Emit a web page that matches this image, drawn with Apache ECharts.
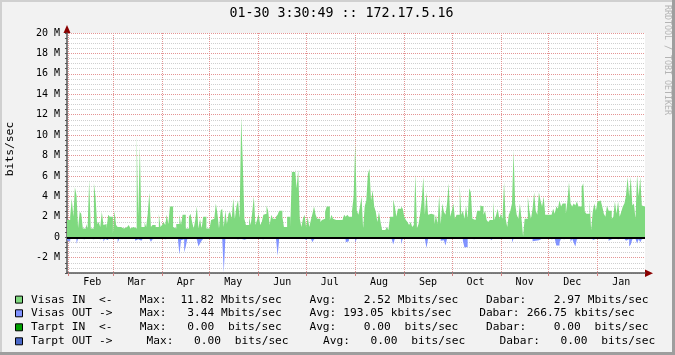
<!DOCTYPE html>
<html><head><meta charset="utf-8">
<script src="https://cdn.jsdelivr.net/npm/echarts@6/dist/echarts.min.js"></script>
<style>html,body{margin:0;padding:0;background:#f2f2f2}#c{width:675px;height:355px}</style>
</head><body><div id="c"></div>
<script>
// Daily values in Mbit/s, starting 31 Jan, last value = current ("Dabar")
const visasIn = [
1.7,1.7,2.0,3.8,2.0,4.9,4.1,0.9,2.5,2.3,
0.85,0.85,1.3,0.85,5.6,0.85,0.85,5.3,4.0,1.3,
1.5,1.0,2.5,1.2,1.3,0.85,2.2,2.0,2.0,0.35,
2.6,1.2,1.0,1.0,0.85,0.85,0.7,1.0,1.0,1.2,
0.85,1.0,0.85,0.85,10.0,2.0,8.85,1.0,1.0,1.5,
1.0,2.3,4.4,1.0,1.2,1.2,1.0,1.0,2.3,1.0,
1.2,1.5,1.2,2.2,1.3,3.0,3.0,1.0,0.85,1.3,
1.3,2.2,1.2,2.2,2.2,0.85,0.85,2.0,2.3,1.5,
0.85,1.7,3.0,0.85,1.8,0.85,2.0,2.0,0.85,0.85,
1.0,1.7,1.8,1.8,3.3,2.3,0.85,2.6,2.8,1.0,
2.6,1.3,2.3,2.5,1.8,3.8,1.8,3.0,3.6,1.8,
11.8,7.4,1.8,1.2,1.2,2.0,1.2,2.5,4.0,1.2,
1.7,2.3,1.2,1.5,2.2,2.3,3.1,2.6,1.2,2.2,
1.8,1.8,2.0,2.2,2.6,2.6,2.0,1.0,1.0,2.0,
2.0,1.0,6.4,6.4,6.7,4.8,6.6,1.8,1.0,1.8,
2.2,1.0,2.0,1.0,1.7,2.3,3.0,2.2,1.8,1.8,
1.5,1.7,1.8,2.5,3.0,3.0,1.7,2.2,1.8,1.7,
1.7,1.7,1.7,1.7,1.7,2.2,2.0,2.2,2.0,2.0,
2.6,4.0,9.2,2.6,2.2,3.0,4.0,0.85,3.0,3.6,
6.2,6.7,3.6,4.6,3.0,2.5,1.5,2.5,1.5,0.7,
0.7,0.7,1.0,0.7,2.0,2.0,3.7,3.0,2.0,2.8,
2.8,3.0,2.8,2.0,1.7,1.5,1.2,1.5,1.0,1.2,
6.2,0.85,1.3,2.3,3.6,5.9,2.2,4.4,2.2,2.3,
2.2,2.2,1.3,2.2,1.3,4.1,1.3,3.3,2.5,2.2,
3.3,5.3,2.0,2.6,3.3,1.8,2.2,2.2,5.1,2.2,
2.6,1.8,3.1,1.8,4.8,4.4,1.8,1.7,1.8,2.6,
2.6,3.1,3.0,2.2,2.6,1.7,1.5,1.7,1.7,3.5,
1.7,2.2,2.8,1.8,2.3,1.8,5.4,1.8,1.0,2.2,
2.6,3.3,8.5,3.3,2.2,1.8,3.3,1.8,0.1,1.8,
1.8,4.0,2.6,1.8,2.8,4.4,2.6,2.2,4.4,3.6,
3.0,4.0,2.2,2.2,2.3,2.2,2.3,2.8,2.3,3.0,
2.8,3.6,3.0,3.3,3.3,2.3,3.5,5.4,3.3,3.0,
3.3,3.1,3.5,3.0,3.0,4.9,5.3,2.5,2.3,2.3,
3.6,0.7,2.5,3.3,2.6,3.5,3.6,3.6,3.0,2.3,
2.0,3.1,2.6,2.6,1.8,2.0,3.5,2.3,3.5,2.0,
2.5,3.0,3.3,4.1,5.9,4.0,5.9,3.1,3.3,1.8,
6.1,4.0,5.9,3.1,3.0,2.97
];
const visasOut = [
-0.30,-0.45,-0.20,-0.15,-0.20,-0.15,-0.65,-0.15,-0.15,-0.10,
-0.20,-0.15,-0.10,-0.15,-0.15,-0.10,-0.20,-0.15,-0.10,-0.15,
-0.20,-0.10,-0.15,-0.45,-0.15,-0.30,-0.10,-0.10,-0.15,-0.10,
-0.10,-0.15,-0.55,-0.15,-0.10,-0.20,-0.10,-0.10,-0.15,-0.10,
-0.15,-0.10,-0.15,-0.35,-0.20,-0.15,-0.35,-0.20,-0.10,-0.15,
-0.10,-0.15,-0.20,-0.45,-0.20,-0.15,-0.10,-0.15,-0.10,-0.10,
-0.15,-0.20,-0.10,-0.15,-0.10,-0.10,-0.15,-0.10,-0.15,-0.10,
-0.15,-1.70,-0.30,-0.20,-1.50,-0.90,-0.15,-0.10,-0.15,-0.10,
-0.15,-0.20,-0.10,-0.90,-0.60,-0.35,-0.15,-0.10,-0.15,-0.10,
-0.10,-0.15,-0.10,-0.10,-0.15,-0.10,-0.15,-0.10,-0.15,-3.44,
-0.15,-0.10,-0.15,-0.10,-0.10,-0.15,-0.10,-0.20,-0.10,-0.15,
-0.30,-0.25,-0.10,-0.15,-0.10,-0.10,-0.20,-0.10,-0.15,-0.10,
-0.10,-0.15,-0.10,-0.20,-0.10,-0.10,-0.15,-0.10,-0.15,-0.10,
-0.10,-0.15,-0.10,-1.80,-0.15,-0.10,-0.20,-0.10,-0.15,-0.10,
-0.10,-0.15,-0.20,-0.10,-0.15,-0.10,-0.10,-0.15,-0.10,-0.10,
-0.15,-0.30,-0.10,-0.15,-0.10,-0.50,-0.20,-0.10,-0.15,-0.10,
-0.10,-0.15,-0.10,-0.10,-0.15,-0.10,-0.10,-0.15,-0.10,-0.10,
-0.15,-0.10,-0.10,-0.15,-0.10,-0.20,-0.50,-0.40,-0.15,-0.10,
-0.15,-0.10,-0.55,-0.15,-0.10,-0.20,-0.15,-0.10,-0.15,-0.20,
-0.10,-0.15,-0.10,-0.10,-0.15,-0.10,-0.10,-0.15,-0.10,-0.15,
-0.10,-0.10,-0.15,-0.10,-0.15,-0.10,-0.70,-0.15,-0.10,-0.15,
-0.20,-0.70,-0.15,-0.10,-0.15,-0.10,-0.05,-0.05,-0.10,-0.15,
-0.10,-0.15,-0.10,-0.15,-0.10,-0.15,-0.20,-1.05,-0.15,-0.10,
-0.15,-0.10,-0.15,-0.10,-0.10,-0.15,-0.35,-0.30,-0.35,-0.80,
-0.15,-0.10,-0.20,-0.10,-0.15,-0.10,-0.15,-0.10,-0.20,-0.15,
-0.35,-1.00,-0.95,-0.15,-0.10,-0.15,-0.20,-0.10,-0.15,-0.10,
-0.15,-0.10,-0.15,-0.10,-0.15,-0.10,-0.10,-0.15,-0.30,-0.10,
-0.15,-0.10,-0.15,-0.10,-0.15,-0.10,-0.15,-0.20,-0.15,-0.10,
-0.15,-0.55,-0.15,-0.10,-0.15,-0.10,-0.15,-0.10,-0.05,-0.15,
-0.30,-0.10,-0.15,-0.10,-0.40,-0.35,-0.40,-0.30,-0.35,-0.15,
-0.10,-0.15,-0.20,-0.10,-0.15,-0.20,-0.10,-0.15,-0.20,-0.80,
-0.80,-0.50,-0.15,-0.20,-0.15,-0.10,-0.15,-0.20,-0.50,-0.15,
-0.55,-0.90,-0.20,-0.15,-0.20,-0.15,-0.10,-0.15,-0.20,-0.15,
-0.10,-0.10,-0.30,-0.15,-0.10,-0.15,-0.20,-0.15,-0.10,-0.15,
-0.20,-0.15,-0.35,-0.20,-0.15,-0.10,-0.15,-0.20,-0.10,-0.15,
-0.20,-0.15,-0.20,-0.35,-0.20,-0.90,-0.70,-0.20,-0.15,-0.20,
-0.60,-0.20,-0.50,-0.20,-0.15,-0.27
];
const monthNames = ['Jan','Feb','Mar','Apr','May','Jun','Jul','Aug','Sep','Oct','Nov','Dec'];
const startDate = [2010, 0, 31];
const titleText = '01-30 3:30:49 :: 172.17.5.16';
const yAxisTitle = 'bits/sec';
const watermark = 'RRDTOOL / TOBI OETIKER';
const legendRows = [
  {color:'#7fd97f', text:'Visas IN  <-    Max:  11.82 Mbits/sec    Avg:    2.52 Mbits/sec    Dabar:    2.97 Mbits/sec'},
  {color:'#8092ff', text:'Visas OUT ->    Max:   3.44 Mbits/sec    Avg: 193.05 kbits/sec    Dabar: 266.75 kbits/sec'},
  {color:'#00a000', text:'Tarpt IN  <-    Max:   0.00  bits/sec    Avg:    0.00  bits/sec    Dabar:    0.00  bits/sec'},
  {color:'#4a68c8', text:'Tarpt OUT ->     Max:   0.00  bits/sec     Avg:   0.00  bits/sec     Dabar:   0.00  bits/sec'}
];

const categories = [];
for (let i = 0; i < visasIn.length; i++) {
  const d = new Date(Date.UTC(startDate[0], startDate[1], startDate[2] + i));
  categories.push(d.getUTCFullYear() + '-' + (d.getUTCMonth()+1) + '-' + d.getUTCDate());
}
const dayOf = v => +String(v).split('-')[2];
const monOf = v => +String(v).split('-')[1];

const MONO = 'DejaVu Sans Mono';
const chart = echarts.init(document.getElementById('c'), null, {renderer:'canvas'});

const minorC = '#cfcfcf', majorC = '#e49494';
const legendGraphics = [];
const rowY = [299.6, 313.3, 327.3, 341.3];
const CW = 6.79;
legendRows.forEach((r, i) => {
  legendGraphics.push({type:'rect', shape:{x:15.5, y:rowY[i]-3.5, width:7, height:7},
    style:{fill:r.color, stroke:'#000', lineWidth:1}});
  const re = /\S+/g; let m;
  while ((m = re.exec(r.text)) !== null) {
    legendGraphics.push({type:'text', x:31 + m.index*CW, y:rowY[i],
      style:{text:m[0], font:'11.2px "' + MONO + '"', fill:'#000', verticalAlign:'middle'}});
  }
});

chart.setOption({
  animation:false,
  backgroundColor:'#f2f2f2',
  grid:{left:67, right:30, top:33, bottom:82, show:true, backgroundColor:'#ffffff', borderWidth:0},
  xAxis:{
    type:'category', data:categories, boundaryGap:false,
    axisLine:{onZero:false, lineStyle:{color:'#555', width:1.5}},
    axisTick:{show:true, length:3, inside:false, interval:(i,v)=>dayOf(v)===1, lineStyle:{color:'#d08080'}},
    axisLabel:{interval:(i,v)=>dayOf(v)===16, formatter:v=>monthNames[monOf(v)-1],
      fontFamily:MONO, fontSize:10, color:'#000', margin:4},
    splitLine:{show:true, interval:(i,v)=>dayOf(v)===1, lineStyle:{color:majorC, type:[1,1], width:1}}
  },
  yAxis:{
    type:'value', min:-3.5, max:20, interval:0.5,
    axisLine:{show:true, lineStyle:{color:'#555', width:1.5}},
    axisTick:{show:true, length:2, lineStyle:{color:'#555'}},
    axisLabel:{fontFamily:MONO, fontSize:10, color:'#000', margin:7,
      formatter:v=> (Math.abs(v % 2) < 1e-9) ? (v === 0 ? '0' : (v + ' M')) : ''},
    splitLine:{show:true, lineStyle:{color:[minorC, minorC, minorC, majorC], type:[1,1], width:1}}
  },
  series:[
    {type:'line', name:'Visas IN', data:visasIn, step:'end', showSymbol:false, symbol:'none',
     lineStyle:{width:0}, areaStyle:{color:'#7fd97f', opacity:1}, sampling:null, z:2,
     markLine:{silent:true, symbol:'none', label:{show:false},
       lineStyle:{color:'#000', width:2, type:'solid'}, data:[{yAxis:0}]}},
    {type:'line', name:'Visas OUT', data:visasOut, step:'end', showSymbol:false, symbol:'none',
     lineStyle:{width:0}, areaStyle:{color:'#8092ff', opacity:1}, z:2}
  ],
  graphic:[
    {type:'text', x:341.5, y:14, style:{text:titleText, font:'13.3px "' + MONO + '"', fill:'#000', align:'center', verticalAlign:'middle'}},
    {type:'text', x:10, y:149, rotation:Math.PI/2, style:{text:yAxisTitle, font:'11.3px "' + MONO + '"', fill:'#000', align:'center', verticalAlign:'middle'}},
    {type:'text', x:667, y:60, rotation:-Math.PI/2, style:{text:watermark, font:'8.3px "' + MONO + '"', fill:'#b4b4b4', align:'center', verticalAlign:'middle'}},
    {type:'polygon', shape:{points:[[63.5,33],[70.5,33],[67,25]]}, style:{fill:'#8b0000'}},
    {type:'polygon', shape:{points:[[645,269.5],[645,277],[653,273.3]]}, style:{fill:'#8b0000'}},
    {type:'rect', shape:{x:0,y:0,width:675,height:2}, style:{fill:'#d0d0d0'}},
    {type:'rect', shape:{x:0,y:0,width:2,height:355}, style:{fill:'#d0d0d0'}},
    {type:'rect', shape:{x:672,y:0,width:3,height:355}, style:{fill:'#9e9e9e'}},
    {type:'rect', shape:{x:0,y:352,width:675,height:3}, style:{fill:'#9e9e9e'}}
  ].concat(legendGraphics)
});
</script></body></html>
